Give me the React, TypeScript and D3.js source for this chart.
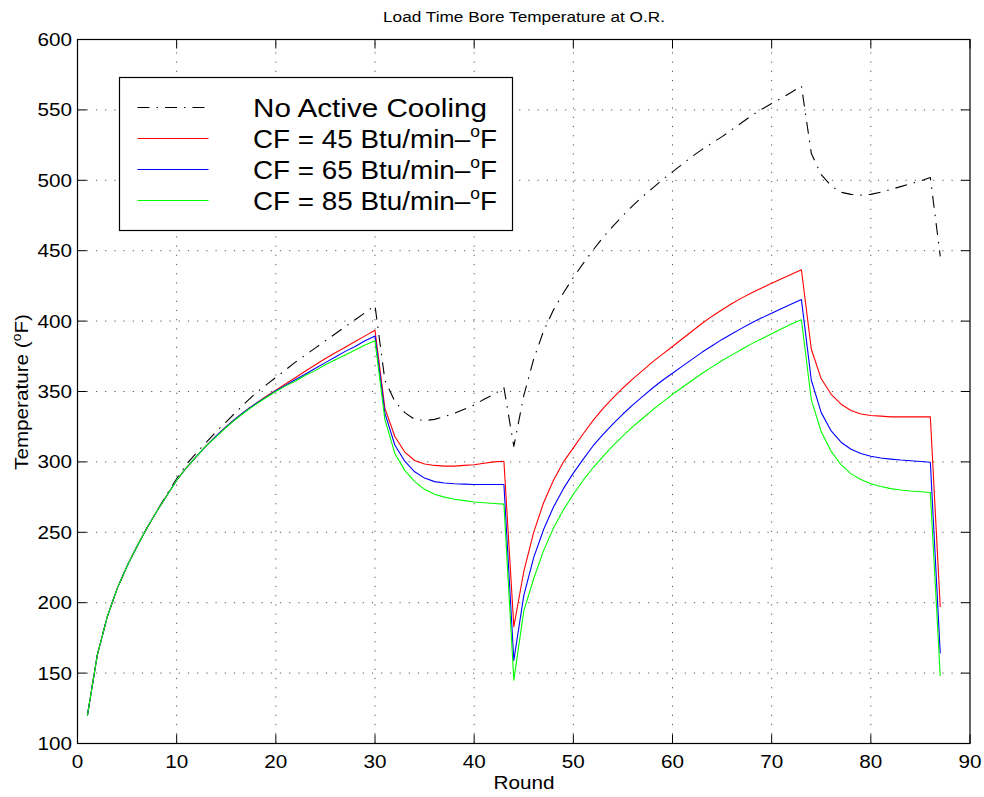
import React from "react";
import * as d3 from "d3";

// rounds 1..87, bore temperature (deg F)
const rounds = d3.range(1, 88);

const noCooling = [
  120, 163, 190, 210, 226, 240, 253, 265, 277, 288,
  298.5, 306.5, 314, 321.5, 328.5, 335.5, 342.5, 349, 354.5, 360,
  365.5, 371, 376, 381, 386, 391, 396, 401, 406, 411,
  358, 343, 335, 330.2, 329.3, 330.2, 332.1, 334.5, 337.4, 340.4,
  344.5, 348, 352.7, 311, 347, 373, 393, 408, 420, 431,
  441, 450.5, 459.5, 467.5, 475, 482, 488.5, 494.5, 500.5, 506,
  511.5, 517, 522, 526.5, 531, 536, 541, 546, 550.5, 554.5,
  558.5, 562.5, 567, 519, 504, 496, 491.5, 490, 489.5, 490,
  491.5, 493.5, 495.5, 497.5, 499.5, 502, 446,
];

const cf45 = [
  120, 163, 190, 210, 226, 240, 253, 265, 276, 287,
  296, 304, 311.5, 318.5, 325, 331, 336.5, 341.5, 346.5, 351,
  355.5, 360, 364.5, 369, 373.5, 377.5, 381.5, 385.5, 389.5, 393.5,
  338, 318, 307, 301, 298.5, 297.5, 297, 297, 297.5, 298,
  299, 300, 300.5, 183, 222, 250, 271, 287, 300, 310,
  320, 329.5, 338, 345.5, 352.5, 359, 365, 371, 376.5, 382,
  387.5, 393, 398.5, 403.5, 408, 412.5, 416.5, 420.2, 423.5, 426.8,
  430, 433.2, 436.5, 380, 359, 348, 341, 336.5, 334, 333,
  332.5, 332, 332, 332, 332, 332, 197,
];

const cf65 = [
  120, 163, 190, 210, 226, 240, 253, 265, 276, 287,
  296, 304, 311.5, 318.5, 325, 331, 336.5, 341.5, 346, 350.5,
  354.5, 358.5, 362.5, 366.5, 370.5, 374.5, 378.5, 382, 386, 389.5,
  334.5, 312, 300.5, 293, 288.5, 286, 285, 284.5, 284.2, 284,
  284, 283.9, 284, 159, 205, 232, 252, 268, 281, 292,
  302, 311.5, 319.5, 327, 334, 340.5, 346.5, 352.5, 358, 363,
  368, 373, 378, 382.5, 387, 391, 395, 398.8, 402.3, 405.6,
  409, 412.2, 415.3, 358, 335, 322, 314, 309, 306, 304,
  302.8, 302, 301.3, 300.8, 300.3, 299.8, 164,
];

const cf85 = [
  120, 163, 190, 210, 226, 240, 253, 265, 276, 287,
  296, 304, 311.5, 318, 324.5, 330.5, 336, 341, 345.5, 350,
  354, 357.5, 361.5, 365, 369, 372.5, 376, 379.5, 383, 386,
  330, 306, 294, 286, 280.5, 277, 275, 273.5, 272.5, 271.5,
  271, 270.5, 270, 145, 194, 217, 237, 253, 266, 277,
  287, 296, 304, 311.5, 318.5, 325, 331, 337, 342.5, 348,
  353, 358, 363, 367.5, 372, 376, 380, 384, 387.5, 391,
  394.5, 398, 401, 344, 321.5, 307.5, 298, 291.5, 287.5, 284.5,
  282.5, 281, 280, 279.3, 278.8, 278.3, 148,
];

const xTicks = [0, 10, 20, 30, 40, 50, 60, 70, 80, 90];
const yTicks = [100, 150, 200, 250, 300, 350, 400, 450, 500, 550, 600];

const series = [
  { name: "No Active Cooling", cf: "", values: noCooling, color: "#000000", dash: "12,7,1.5,7" },
  { name: "CF = 45 Btu/min–", cf: "45", values: cf45, color: "#ff0000", dash: "" },
  { name: "CF = 65 Btu/min–", cf: "65", values: cf65, color: "#0000ff", dash: "" },
  { name: "CF = 85 Btu/min–", cf: "85", values: cf85, color: "#00ff00", dash: "" },
];

const FONT = "'Liberation Sans', Arial, Helvetica, sans-serif";
const SX = 1.15; // original lettering is a bit wider than it is tall

const Txt = ({ x, y, size, anchor = "start", rotate = 0, len, children }: any) => (
  <text
    transform={`translate(${x},${y}) rotate(${rotate}) scale(${SX},1)`}
    fontSize={size}
    fontFamily={FONT}
    textAnchor={anchor}
    fill="#000"
    textLength={len ? len / SX : undefined}
    lengthAdjust={len ? "spacingAndGlyphs" : undefined}
  >
    {children}
  </text>
);

export default function App() {
  const width = 984;
  const height = 797;
  const left = 77.5;
  const right = 970;
  const top = 39.5;
  const bottom = 743.5;
  const tick = 9;

  const x = d3.scaleLinear().domain([0, 90]).range([left, right]);
  const y = d3.scaleLinear().domain([100, 600]).range([bottom, top]);

  const line = d3
    .line<number>()
    .x((d, i) => x(rounds[i]))
    .y((d) => y(d));

  // legend box
  const lg = { x0: 119.5, y0: 77.5, x1: 512.5, y1: 230.5 };
  const rowY = [107.5, 138.5, 169.5, 200.5];

  return (
    <svg
      width={width}
      height={height}
      style={{ position: "absolute", left: 0, top: 0, background: "#fff" }}
    >
      <rect x={0} y={0} width={width} height={height} fill="#fff" />

      {/* grid */}
      <g stroke="#555" strokeWidth={1} strokeDasharray="1.2,8">
        {xTicks.slice(1, -1).map((t) => (
          <line key={"gx" + t} x1={x(t)} x2={x(t)} y1={bottom} y2={top} />
        ))}
        {yTicks.slice(1, -1).map((t) => (
          <line key={"gy" + t} x1={left} x2={right} y1={y(t)} y2={y(t)} />
        ))}
      </g>

      {/* data */}
      <g fill="none" strokeWidth={1.1} strokeLinejoin="round">
        {series.map((s) => (
          <path
            key={s.name}
            d={line(s.values) || ""}
            stroke={s.color}
            strokeDasharray={s.dash || undefined}
          />
        ))}
      </g>

      {/* axes box and ticks */}
      <rect x={left} y={top} width={right - left} height={bottom - top} fill="none" stroke="#000" strokeWidth={1.2} />
      <g stroke="#000" strokeWidth={1}>
        {xTicks.map((t) => (
          <g key={"tx" + t}>
            <line x1={x(t)} x2={x(t)} y1={bottom} y2={bottom - tick} />
            <line x1={x(t)} x2={x(t)} y1={top} y2={top + tick} />
          </g>
        ))}
        {yTicks.map((t) => (
          <g key={"ty" + t}>
            <line x1={left} x2={left + tick} y1={y(t)} y2={y(t)} />
            <line x1={right} x2={right - tick} y1={y(t)} y2={y(t)} />
          </g>
        ))}
      </g>

      {/* tick labels */}
      {xTicks.map((t) => (
        <Txt key={"lx" + t} x={x(t)} y={768} size={18} anchor="middle">
          {t}
        </Txt>
      ))}
      {yTicks.map((t) => (
        <Txt key={"ly" + t} x={72} y={y(t) + 6.5} size={18} anchor="end">
          {t}
        </Txt>
      ))}

      {/* titles */}
      <Txt x={524} y={22} size={15} anchor="middle" len={282}>
        Load Time Bore Temperature at O.R.
      </Txt>
      <Txt x={524} y={789} size={18} anchor="middle">
        Round
      </Txt>
      <Txt x={28} y={392} size={18} anchor="middle" rotate={-90}>
        Temperature (<tspan fontSize={12} dy={-7}>o</tspan>
        <tspan dy={7}>F)</tspan>
      </Txt>

      {/* legend */}
      <rect
        x={lg.x0}
        y={lg.y0}
        width={lg.x1 - lg.x0}
        height={lg.y1 - lg.y0}
        fill="#fff"
        stroke="#000"
        strokeWidth={1.2}
      />
      {series.map((s, i) => (
        <g key={"lg" + s.name}>
          <line
            x1={137.5}
            x2={208.5}
            y1={rowY[i]}
            y2={rowY[i]}
            stroke={s.color}
            strokeWidth={1.1}
            strokeDasharray={s.dash || undefined}
          />
          <Txt x={253} y={rowY[i] + 9.5} size={25.5} len={s.cf ? 244 : 234}>
            {s.cf ? (
              <>
                {s.name}
                <tspan fontSize={16} dy={-11}>o</tspan>
                <tspan dy={11}>F</tspan>
              </>
            ) : (
              s.name
            )}
          </Txt>
        </g>
      ))}
    </svg>
  );
}
